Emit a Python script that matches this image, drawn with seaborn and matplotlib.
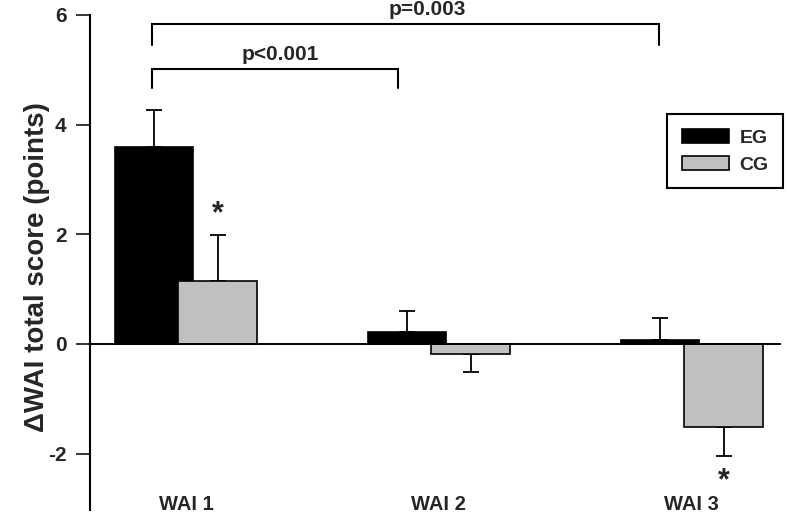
import numpy as np
import pandas as pd
import matplotlib
matplotlib.use("Agg")
import matplotlib.pyplot as plt
import seaborn as sns

# ---- data ----
categories = ["WAI 1", "WAI 2", "WAI 3"]
groups = ["EG", "CG"]
eg_mean = [3.60, 0.21, 0.07]
eg_err = [0.67, 0.39, 0.41]
cg_mean = [1.15, -0.18, -1.51]
cg_err = [0.84, 0.34, 0.53]
yticks = [-2, 0, 2, 4, 6]
ylabel = "ΔWAI total score (points)"
# significance brackets: text, x-left, x-right, text-x, bar y, leg bottom y
bracket_text = ["p<0.001", "p=0.003"]
bracket_x0 = [-0.134, -0.134]
bracket_x1 = [0.839, 1.871]
bracket_tx = [0.372, 0.953]
bracket_y = [5.02, 5.84]
bracket_yb = [4.67, 5.45]
# asterisks: category, y
star_cat = ["WAI 1", "WAI 3"]
star_y = [2.37, -2.50]

palette = {"EG": "#000000", "CG": "#c0c0c0"}

sns.set_style("white")
plt.rcParams["font.family"] = ["Liberation Sans", "DejaVu Sans"]
plt.rcParams["font.weight"] = "bold"

df = pd.DataFrame({
    "category": categories * 2,
    "group": ["EG"] * 3 + ["CG"] * 3,
    "value": eg_mean + cg_mean,
})
errs = {"EG": eg_err, "CG": cg_err}
means = {"EG": eg_mean, "CG": cg_mean}

fig = plt.figure(figsize=(7.87, 5.18), dpi=100)
ax = fig.add_axes([90 / 787, 1 - 510 / 518, 691 / 787, 495 / 518])

sns.barplot(data=df, x="category", y="value", hue="group", order=categories,
            hue_order=groups, palette=palette, width=0.5, gap=-0.236,
            edgecolor="black", linewidth=1.2, errorbar=None, ax=ax, zorder=3)

# one-sided error bars
for container, g in zip(ax.containers, groups):
    for patch, m, e in zip(container.patches, means[g], errs[g]):
        xc = patch.get_x() + patch.get_width() / 2
        yerr = [[0], [e]] if m >= 0 else [[e], [0]]
        ax.errorbar([xc], [m], yerr=yerr, fmt="none", ecolor="black",
                    elinewidth=1.3, capsize=5.8, capthick=1.3, zorder=2)

ax.axhline(0, color="black", lw=1.4, zorder=4)

# brackets
for t, x0, x1, tx, y, yb in zip(bracket_text, bracket_x0, bracket_x1,
                                bracket_tx, bracket_y, bracket_yb):
    ax.plot([x0, x0, x1, x1], [yb, y, y, yb], color="black", lw=1.5,
            solid_joinstyle="miter", clip_on=False)
    ax.text(tx, y + 0.08, t, ha="center", va="bottom", fontsize=15,
            fontweight="bold")

# asterisks above/below CG bars
cg_cont = ax.containers[1]
for c, y in zip(star_cat, star_y):
    p = cg_cont.patches[categories.index(c)]
    ax.text(p.get_x() + p.get_width() / 2, y, "*", ha="center", va="center",
            fontsize=22, fontweight="bold")

ax.set_ylim(-3.03, 6)
ax.set_xlim(-0.379, 2.352)
ax.set_yticks(yticks)
ax.set_yticklabels([str(v) for v in yticks])
ax.tick_params(axis="y", direction="out", length=10, width=1.3, pad=7,
               labelsize=15, left=True)
ax.tick_params(axis="x", length=0, pad=-11, labelsize=14.5)
for lab in ax.get_xticklabels() + ax.get_yticklabels():
    lab.set_fontweight("bold")

for s in ["top", "right", "bottom"]:
    ax.spines[s].set_visible(False)
ax.spines["left"].set_linewidth(1.5)
ax.spines["left"].set_color("black")

ax.set_xlabel("")
ax.set_ylabel(ylabel, fontsize=20, fontweight="bold")
ax.yaxis.set_label_coords(-0.058, 0.491)

handles, labels = ax.get_legend_handles_labels()
leg = ax.legend(handles, labels, loc="upper right",
                bbox_to_anchor=(783 / 787, 1 - 114 / 518),
                bbox_transform=fig.transFigure, borderaxespad=0,
                frameon=True, fancybox=False, framealpha=1, edgecolor="black",
                prop={"size": 14, "weight": "bold"},
                handlelength=2.4, handleheight=0.8, handletextpad=0.55,
                labelspacing=0.45, borderpad=0.75)
leg.get_frame().set_linewidth(1.5)

fig.savefig("out.png", dpi=100)
